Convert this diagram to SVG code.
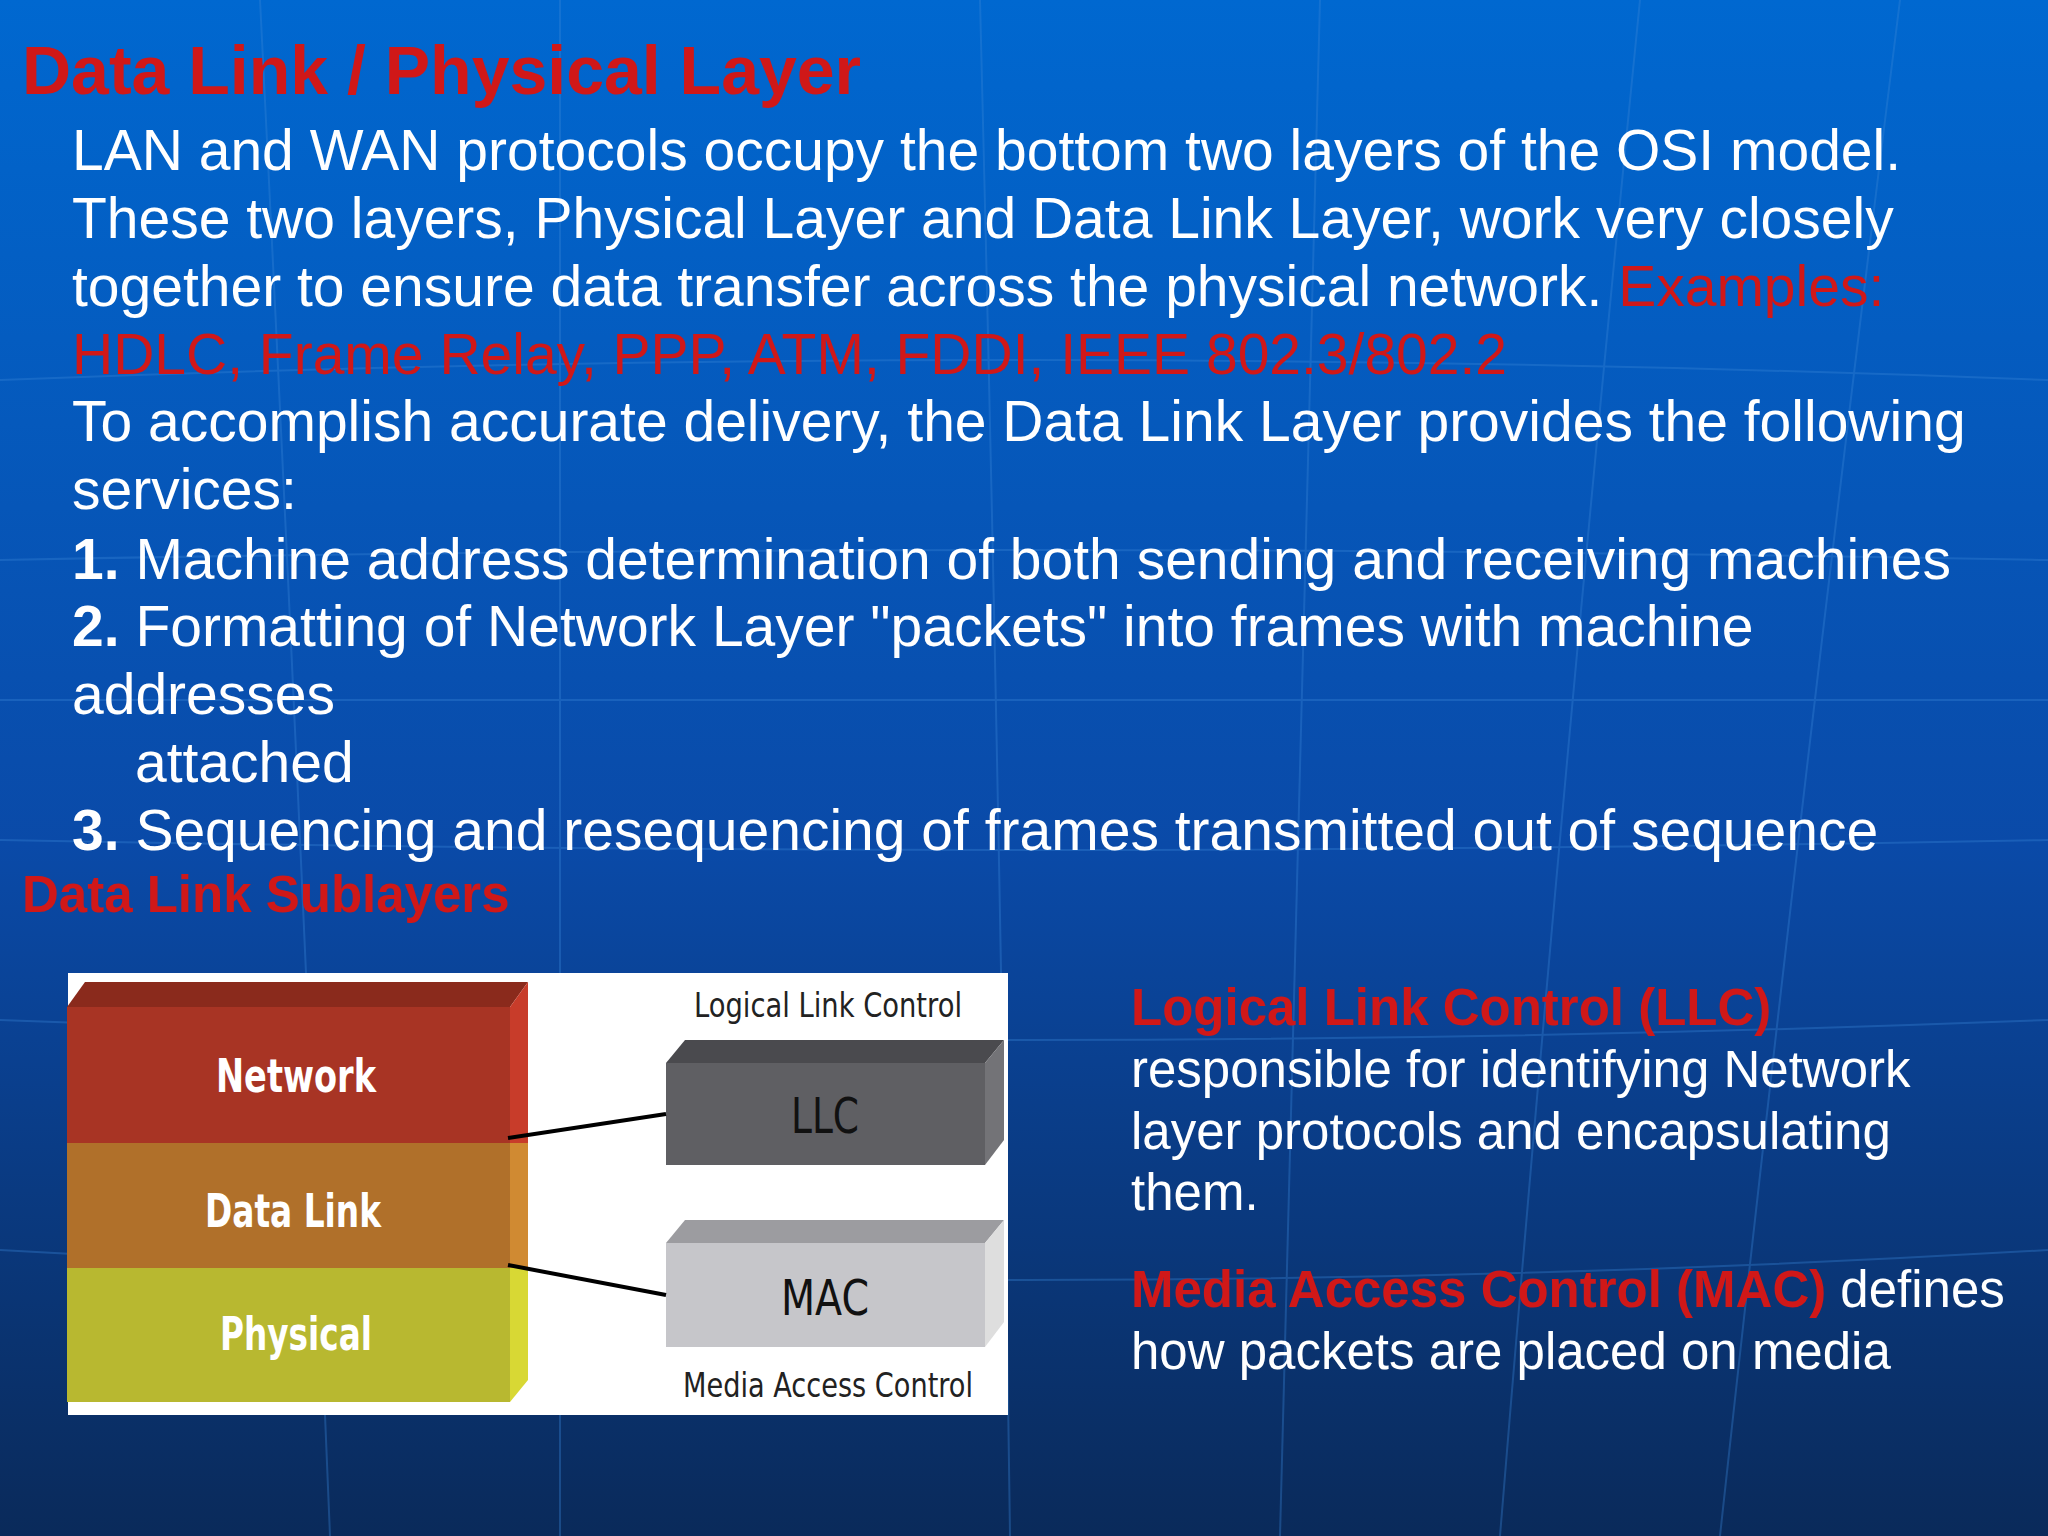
<svg xmlns="http://www.w3.org/2000/svg" width="2048" height="1536" viewBox="0 0 2048 1536">
<defs>
<linearGradient id="bg" x1="0" y1="0" x2="0" y2="1">
<stop offset="0" stop-color="#0068d0"/>
<stop offset="0.55" stop-color="#0a4aa8"/>
<stop offset="1" stop-color="#0a2a5a"/>
</linearGradient>
<style>
.t{font-family:"Liberation Sans",Arial,sans-serif;fill:#fff}
.r{fill:#d01818}
.b{font-size:57px}
.c{font-family:"DejaVu Sans Condensed","DejaVu Sans",sans-serif}
.g{stroke:#3a86d8;stroke-width:2;fill:none;opacity:0.35}
</style>
</defs>
<rect width="2048" height="1536" fill="url(#bg)"/>
<g class="g">
<path d="M0 380 Q1024 340 2048 380"/><path d="M0 560 Q1024 540 2048 560"/><path d="M0 700 L2048 700"/><path d="M0 840 Q1024 860 2048 840"/><path d="M0 1020 Q1024 1060 2048 1020"/><path d="M0 1250 Q1024 1310 2048 1250"/>
<path d="M560 0 L560 1536"/><path d="M980 0 Q1000 800 1010 1536"/><path d="M1320 0 Q1300 800 1280 1536"/><path d="M1640 0 Q1560 800 1500 1536"/><path d="M1900 0 Q1800 800 1720 1536"/><path d="M260 0 Q300 800 330 1536"/>
</g>
<g id="title"><text class="t r" x="22" y="94" font-size="68" font-weight="bold">Data Link / Physical Layer</text></g>
<g id="body" class="t b">
<text x="72" y="170">LAN and WAN protocols occupy the bottom two layers of the OSI model.</text>
<text x="72" y="238">These two layers, Physical Layer and Data Link Layer, work very closely</text>
<text x="72" y="306">together to ensure data transfer across the physical network. <tspan class="r">Examples:</tspan></text>
<text x="72" y="374" class="t r">HDLC, Frame Relay, PPP, ATM, FDDI, IEEE 802.3/802.2</text>
<text x="72" y="441">To accomplish accurate delivery, the Data Link Layer provides the following</text>
<text x="72" y="509">services:</text>
<text x="72" y="579"><tspan font-weight="bold">1.</tspan> Machine address determination of both sending and receiving machines</text>
<text x="72" y="646"><tspan font-weight="bold">2.</tspan> Formatting of Network Layer "packets" into frames with machine</text>
<text x="72" y="714">addresses</text>
<text x="135" y="782">attached</text>
<text x="72" y="850"><tspan font-weight="bold">3.</tspan> Sequencing and resequencing of frames transmitted out of sequence</text>
</g>
<g id="subtitle"><text class="t r" x="22" y="912" font-size="51" font-weight="bold">Data Link Sublayers</text></g>
<g id="diagram">
<rect x="68" y="973" width="940" height="442" fill="#fff"/>
<polygon points="67,1007 85,982 528,982 510,1007" fill="#8a2a1c"/>
<rect x="67" y="1007" width="443" height="136" fill="#a83424"/>
<polygon points="510,1007 528,982 528,1143 510,1143" fill="#c83c2a"/>
<rect x="67" y="1143" width="443" height="125" fill="#b0702a"/>
<polygon points="510,1143 528,1143 528,1268 510,1268" fill="#d08a32"/>
<rect x="67" y="1268" width="443" height="134" fill="#b8b830"/>
<polygon points="510,1268 528,1268 528,1380 510,1402" fill="#d8d834"/>
<text class="c" x="296" y="1092" font-size="46" font-weight="bold" fill="#fff" text-anchor="middle" textLength="160" lengthAdjust="spacingAndGlyphs">Network</text>
<text class="c" x="293" y="1227" font-size="46" font-weight="bold" fill="#fff" text-anchor="middle" textLength="176" lengthAdjust="spacingAndGlyphs">Data Link</text>
<text class="c" x="296" y="1350" font-size="46" font-weight="bold" fill="#fff" text-anchor="middle" textLength="152" lengthAdjust="spacingAndGlyphs">Physical</text>
</g>
<g id="llc">
<polygon points="666,1063 685,1040 1004,1040 985,1063" fill="#4a4a4e"/>
<rect x="666" y="1063" width="319" height="102" fill="#5f5f63"/>
<polygon points="985,1063 1004,1040 1004,1140 985,1165" fill="#737377"/>
<text class="c" x="825" y="1133" font-size="50" fill="#111" text-anchor="middle" textLength="68" lengthAdjust="spacingAndGlyphs">LLC</text>
<text class="c" x="828" y="1017" font-size="34" fill="#222" text-anchor="middle" textLength="268" lengthAdjust="spacingAndGlyphs">Logical Link Control</text>
</g>
<g id="mac">
<polygon points="666,1243 685,1220 1004,1220 985,1243" fill="#9c9ca0"/>
<rect x="666" y="1243" width="319" height="104" fill="#c6c6ca"/>
<polygon points="985,1243 1004,1220 1004,1322 985,1347" fill="#dedede"/>
<text class="c" x="825" y="1315" font-size="50" fill="#111" text-anchor="middle" textLength="88" lengthAdjust="spacingAndGlyphs">MAC</text>
<text class="c" x="828" y="1397" font-size="34" fill="#222" text-anchor="middle" textLength="290" lengthAdjust="spacingAndGlyphs">Media Access Control</text>
</g>
<g id="connectors" stroke="#000" stroke-width="4">
<line x1="508" y1="1138" x2="666" y2="1114"/>
<line x1="508" y1="1265" x2="666" y2="1295"/>
</g>
<g id="desc" class="t" font-size="51">
<text x="1131" y="1025" class="t r" font-weight="bold">Logical Link Control (LLC)</text>
<text x="1131" y="1087">responsible for identifying Network</text>
<text x="1131" y="1149">layer protocols and encapsulating</text>
<text x="1131" y="1210">them.</text>
<text x="1131" y="1307"><tspan class="r" font-weight="bold">Media Access Control (MAC)</tspan> defines</text>
<text x="1131" y="1369">how packets are placed on media</text>
</g>
</svg>
